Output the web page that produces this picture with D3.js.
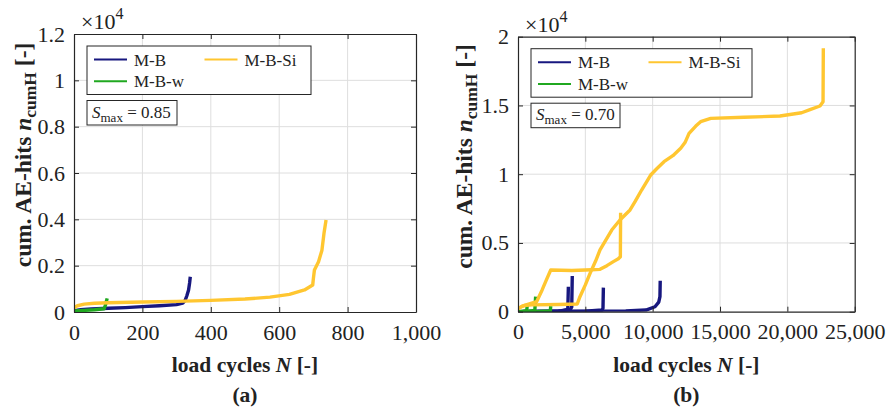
<!DOCTYPE html>
<html>
<head>
<meta charset="utf-8">
<script src="https://cdn.jsdelivr.net/npm/d3@7"></script>
<style>
  body { margin: 0; background: #fff; }
  svg { display: block; font-family: "Liberation Serif", "Times New Roman", serif; }
</style>
</head>
<body>
<script>

const COLORS = { "M-B": "#17177f", "M-B-w": "#20a820", "M-B-Si": "#ffc630" }

// ---- panel (a), S_max = 0.85 ----
const xTicksA = [0, 200, 400, 600, 800, 1000]
const yTicksA = [0, 2000, 4000, 6000, 8000, 10000, 12000]

// [load cycles N, cum. AE-hits]
const aMB = [[0,60],[20,100],[50,130],[100,160],[150,190],[200,230],[250,270],[300,320],[318,380],
  [325,500],[330,700],[335,950],[338,1250],[340,1520]]
const aMBw = [[0,40],[30,70],[60,100],[88,140],[91,250],[94,420],[97,590]]
const aMBSi = [[0,180],[10,270],[30,340],[60,380],[100,400],[200,430],[300,460],[400,500],[500,560],
  [573,640],[630,760],[674,950],[698,1165],[700,1450],[703,1810],[715,2170],[725,2670],[731,3400],[737,3970]]

// ---- panel (b), S_max = 0.70 ----
const xTicksB = [0, 5000, 10000, 15000, 20000, 25000]
const yTicksB = [0, 5000, 10000, 15000, 20000]

const bMB1 = [[0,0],[2000,20],[3300,60],[3650,150],[3700,250],[3740,1820]]
const bMB2 = [[0,0],[3000,40],[3900,180],[3990,350],[4030,2600]]
const bMB3 = [[0,0],[5000,40],[6250,120],[6310,250],[6340,1750]]
const bMB4 = [[0,0],[5000,40],[8000,60],[9500,120],[10170,360],[10450,700],[10540,1100],[10560,2250]]
const bMBw1 = [[0,0],[400,30],[650,80],[690,540]]
const bMBw2 = [[0,0],[800,30],[1250,100],[1310,1090]]
const bMBw3 = [[0,0],[1500,20],[2400,60],[2430,410]]
const bMBSi1 = [[0,200],[300,400],[600,500],[1380,730],[1800,1600],[2100,2300],[2430,3030],[4000,3000],
  [5500,3050],[6090,3080],[6600,3350],[7080,3640],[7450,3850],[7600,4000],[7620,7200]]
const bMBSi2 = [[0,250],[500,450],[1000,500],[3000,520],[4400,560],[4600,1090],[5000,1950],[5350,2790],
  [5770,3700],[6090,4490],[6960,5940],[7570,6670],[8320,7400],[8690,8000],[9180,8850],[9850,9940],
  [10300,10400],[10840,10910],[11500,11350],[12080,11880],[12400,12300],[12700,12970],[13200,13500],
  [13560,13820],[14310,14060],[16780,14140],[19450,14230],[21060,14470],[21730,14720],[22420,14960],
  [22650,15270],[22670,19160]]


const svg = d3.select("body").append("svg")
  .attr("width", 888).attr("height", 410)

const panels = [
  { box: [74, 34, 416, 312], xDomain: [0, 1000], yDomain: [0, 12000], xTicks: xTicksA, yTicks: yTicksA,
    series: [["M-B", aMB], ["M-B-w", aMBw], ["M-B-Si", aMBSi]],
    smax: "0.85", tag: "(a)", legendW: 224, smaxW: 90, ylabel: [30.5, 155] },
  { box: [518, 36.7, 854.7, 311.7], xDomain: [0, 25000], yDomain: [0, 20000], xTicks: xTicksB, yTicks: yTicksB,
    series: [["M-B", bMB1], ["M-B", bMB2], ["M-B", bMB3], ["M-B", bMB4],
             ["M-B-w", bMBw1], ["M-B-w", bMBw2], ["M-B-w", bMBw3],
             ["M-B-Si", bMBSi1], ["M-B-Si", bMBSi2]],
    smax: "0.70", tag: "(b)", legendW: 221, smaxW: 89, ylabel: [471.5, 156.5] }
]

panels.forEach(drawPanel)

function drawPanel(p) {
  const [x0, y0, x1, y1] = p.box
  const g = svg.append("g")

  const x = d3.scaleLinear().domain(p.xDomain).range([x0, x1])
  const y = d3.scaleLinear().domain(p.yDomain).range([y1, y0])

  // grid
  g.append("g").selectAll("line").data(p.xTicks.slice(1, -1)).join("line")
    .attr("x1", d => x(d)).attr("x2", d => x(d)).attr("y1", y0).attr("y2", y1)
    .attr("stroke", "#dedede").attr("stroke-width", 1)
  g.append("g").selectAll("line").data(p.yTicks.slice(1, -1)).join("line")
    .attr("y1", d => y(d)).attr("y2", d => y(d)).attr("x1", x0).attr("x2", x1)
    .attr("stroke", "#dedede").attr("stroke-width", 1)

  // data lines (clipped to the axes)
  const clipId = "clip" + p.tag.replace(/\W/g, "")
  svg.append("clipPath").attr("id", clipId).append("rect")
    .attr("x", x0).attr("y", y0).attr("width", x1 - x0).attr("height", y1 - y0)
  const line = d3.line().x(d => x(d[0])).y(d => y(d[1]))
  g.append("g").attr("clip-path", `url(#${clipId})`)
    .selectAll("path").data(p.series).join("path")
    .attr("d", d => line(d[1]))
    .attr("fill", "none")
    .attr("stroke", d => COLORS[d[0]])
    .attr("stroke-width", 3.4)
    .attr("stroke-linejoin", "round")

  // axes, MATLAB style: ticks inside on all four sides
  const fmtX = d3.format(",")
  const fmtY = d => d3.format("~g")(d / 1e4)
  const axisCol = "#262626"

  const style = sel => {
    sel.select(".domain").attr("stroke", axisCol).attr("stroke-width", 1.2)
    sel.selectAll(".tick line").attr("stroke", axisCol)
    sel.selectAll("text").attr("font-size", 22).attr("fill", "#222")
      .attr("font-family", "'Liberation Serif','Times New Roman',serif")
  }
  g.append("g").attr("transform", `translate(0,${y1})`)
    .call(d3.axisBottom(x).tickValues(p.xTicks).tickFormat(fmtX).tickSizeInner(-5).tickSizeOuter(0).tickPadding(12))
    .call(style)
  g.append("g").attr("transform", `translate(0,${y0})`)
    .call(d3.axisTop(x).tickValues(p.xTicks).tickFormat("").tickSizeInner(-5).tickSizeOuter(0))
    .call(style)
  g.append("g").attr("transform", `translate(${x0},0)`)
    .call(d3.axisLeft(y).tickValues(p.yTicks).tickFormat(fmtY).tickSizeInner(-5).tickSizeOuter(0).tickPadding(9))
    .call(style)
  g.append("g").attr("transform", `translate(${x1},0)`)
    .call(d3.axisRight(y).tickValues(p.yTicks).tickFormat("").tickSizeInner(-5).tickSizeOuter(0))
    .call(style)

  // exponent label
  const ex = g.append("text").attr("x", x0 + 7).attr("y", y0 - 5)
    .attr("font-size", 22).attr("fill", "#222")
  ex.append("tspan").text("\u00d710")
  ex.append("tspan").attr("font-size", 16).attr("dy", -10).text("4")

  // axis labels
  const xl = g.append("text").attr("x", (x0 + x1) / 2).attr("y", 372)
    .attr("text-anchor", "middle").attr("font-size", 21.5).attr("font-weight", "bold").attr("fill", "#222")
  xl.append("tspan").text("load cycles ")
  xl.append("tspan").attr("font-style", "italic").text("N")
  xl.append("tspan").text(" [-]")

  g.append("text").attr("x", (x0 + x1) / 2).attr("y", 402)
    .attr("text-anchor", "middle").attr("font-size", 21.5).attr("font-weight", "bold").attr("fill", "#222")
    .text(p.tag)

  const yl = g.append("text")
    .attr("transform", `translate(${p.ylabel[0]},${p.ylabel[1]}) rotate(-90)`)
    .attr("text-anchor", "middle").attr("font-size", 23.5).attr("font-weight", "bold").attr("fill", "#222")
  yl.append("tspan").text("cum. AE-hits ")
  yl.append("tspan").attr("font-style", "italic").text("n")
  yl.append("tspan").attr("font-size", 17.5).attr("dy", 5).text("cumH")
  yl.append("tspan").attr("dy", -5).text(" [-]")

  // legend
  const lx = x0 + 13, ly = y0 + 12, lh = 48.5
  const leg = g.append("g").attr("transform", `translate(${lx},${ly})`)
  leg.append("rect").attr("width", p.legendW).attr("height", lh)
    .attr("fill", "#fff").attr("stroke", axisCol).attr("stroke-width", 1)
  const items = [["M-B", 7, 13.5], ["M-B-w", 7, 35.3], ["M-B-Si", 117.5, 13.5]]
  items.forEach(([name, ix, iy]) => {
    leg.append("line").attr("x1", ix).attr("x2", ix + 33).attr("y1", iy).attr("y2", iy)
      .attr("stroke", COLORS[name]).attr("stroke-width", 2)
    leg.append("text").attr("x", ix + 40).attr("y", iy + 6)
      .attr("font-size", 17).attr("fill", "#222").text(name)
  })

  // S_max box
  const sy = ly + lh + 6
  const sb = g.append("g").attr("transform", `translate(${lx},${sy})`)
  sb.append("rect").attr("width", p.smaxW).attr("height", 24.5)
    .attr("fill", "#fff").attr("stroke", axisCol).attr("stroke-width", 1)
  const st = sb.append("text").attr("x", 5).attr("y", 17).attr("font-size", 17).attr("fill", "#222")
  st.append("tspan").attr("font-style", "italic").text("S")
  st.append("tspan").attr("font-size", 13).attr("dy", 4).text("max")
  st.append("tspan").attr("dy", -4).text(" = " + p.smax)
}
</script>
</body>
</html>
